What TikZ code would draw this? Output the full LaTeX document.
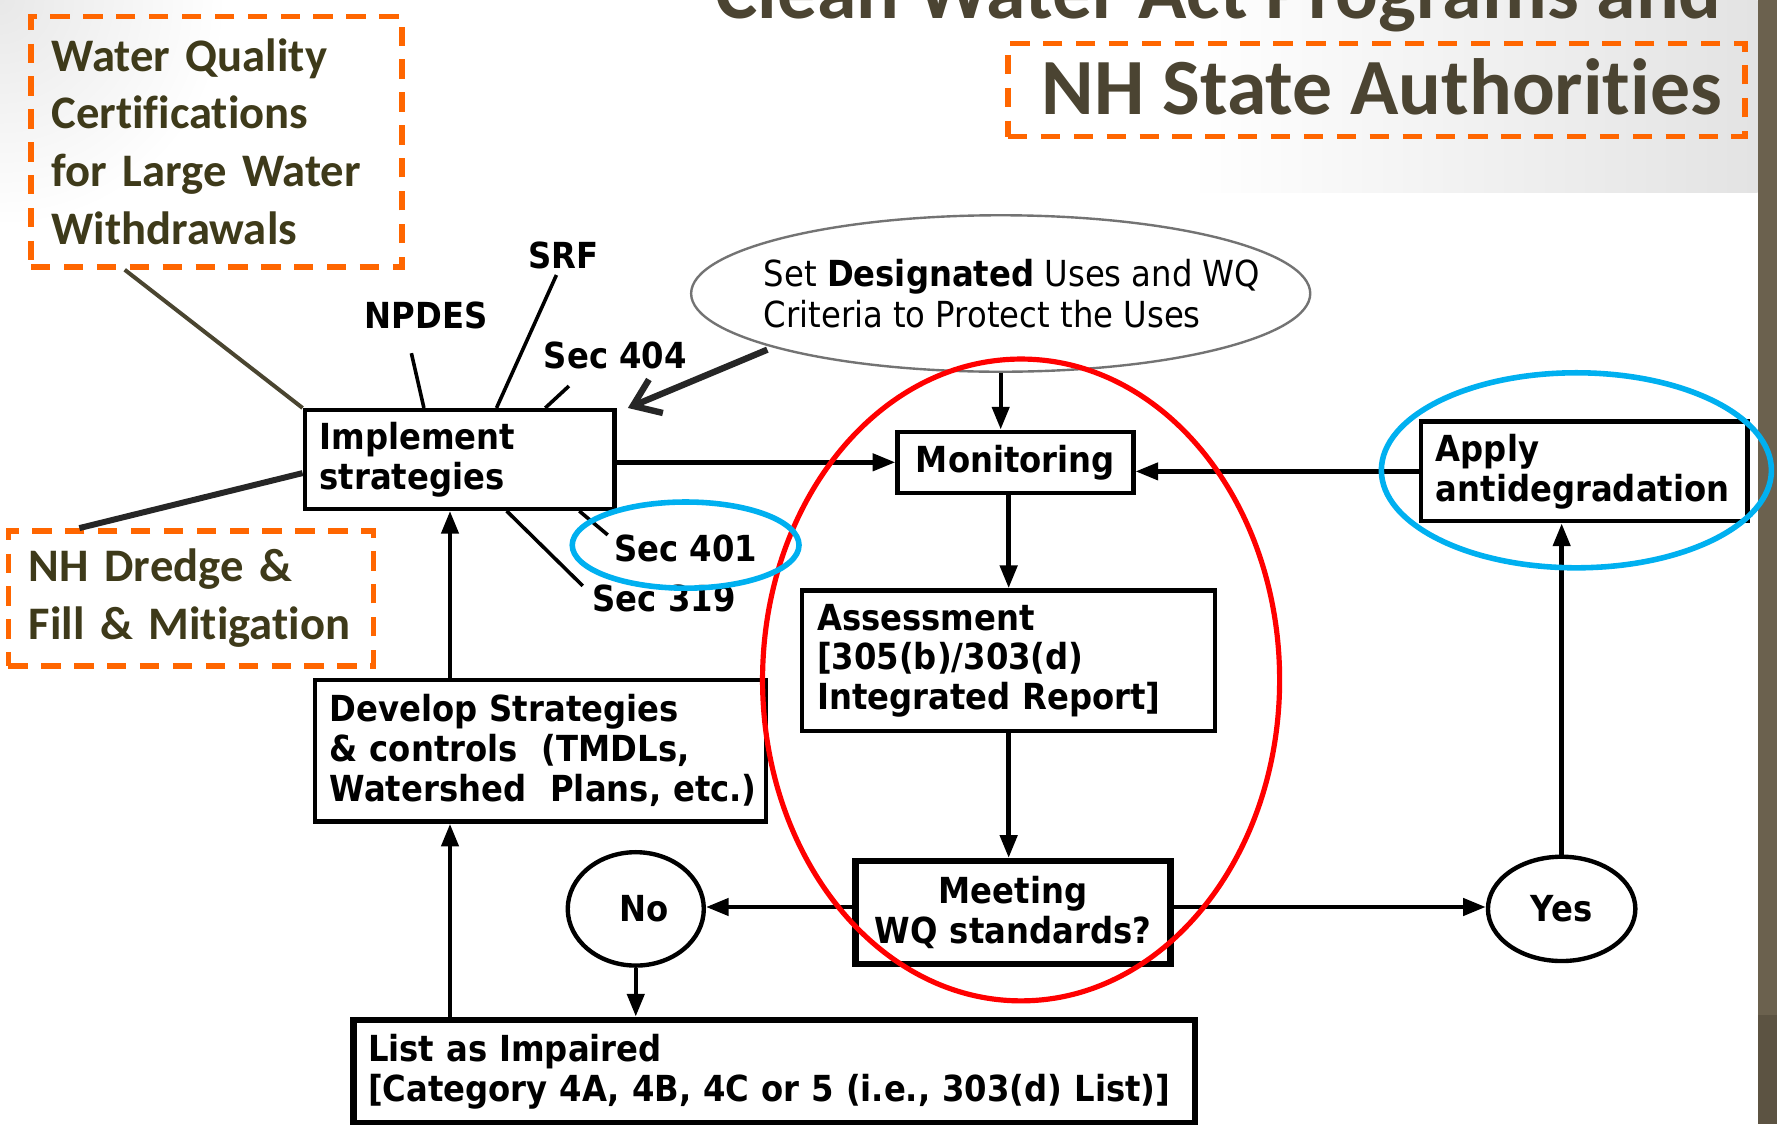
\documentclass[tikz,border=0pt]{standalone}
\usepackage{fontspec}
\setmainfont{DejaVu Sans}[FakeStretch=0.9]
\newfontfamily\slidefont{Carlito}[Ligatures=NoCommon]
\usetikzlibrary{arrows.meta,shapes.geometric}

\definecolor{slideorange}{RGB}{255,102,0}
\definecolor{slidetext}{RGB}{62,58,26}
\definecolor{titletext}{RGB}{75,68,50}
\definecolor{sidebar}{RGB}{107,97,78}
\definecolor{sidebardark}{RGB}{92,83,66}
\definecolor{ringblue}{RGB}{0,176,240}
\definecolor{linkolive}{RGB}{74,69,48}

\begin{document}
\begin{tikzpicture}
[
x=0.01cm, y=-0.01cm,
box/.style={
% The shape:
rectangle,
% The border:
draw=black, line width=1.1pt,
% The filling:
fill=white,
% The text:
font=\fontsize{9}{10}\selectfont\bfseries,
inner xsep=1.3mm, inner ysep=0mm,
},
bigbox/.style={
box,
% a heavier border
line width=1.6pt,
},
answer/.style={
% The shape:
ellipse,
% The border:
draw=black, line width=1.1pt,
fill=white,
font=\fontsize{9}{10}\selectfont\bfseries,
inner sep=0pt,
},
program/.style={
font=\fontsize{9}{10}\selectfont\bfseries,
inner sep=0pt,
},
stateauth/.style={
% The shape:
rectangle,
% The border: orange and dashed
draw=slideorange, line width=1.4pt,
dash pattern=on 1.7mm off 1.2mm,
% The text:
text=slidetext,
font=\slidefont\fontsize{11.7}{14.5}\selectfont\bfseries,
inner xsep=1.8mm, inner ysep=0mm,
align=left,
},
slidetitle/.style={
anchor=base east, inner sep=0pt,
text=titletext,
font=\slidefont\fontsize{20}{24}\selectfont\bfseries,
},
flow/.style={-{Triangle[length=2mm,width=1.5mm]}, line width=1.1pt},
stub/.style={line width=0.9pt},
ring/.style={line width=1.4pt},
]
    \useasboundingbox (0,0) rectangle (1568,992);
    \clip (0,0) rectangle (1568,992);
    % slide background
    \fill[white] (0,0) rectangle (1568,992);
    \shade[left color=white, right color=black!11] (1050,0) rectangle (1551,170);
    \shade[inner color=black!9, outer color=white] (0,0) circle (2cm);
    \fill[sidebar] (1551,0) rectangle (1568,896);
    \fill[sidebardark] (1551,896) rectangle (1568,992);

    % title
    \node[slidetitle] (title) at (1520,16) {Clean Water Act Programs and};
    \node[slidetitle] (subtitle) at (1520,101) {NH State Authorities};
    \node[stateauth, anchor=north west, minimum width=6.5cm, minimum height=8.2mm] (authbox) at (887,36) {};

    % state programs
    \node[stateauth, anchor=north west, text width=2.91cm, minimum height=22.1mm] (wqcert) at (25,12) {Water~Quality\\Certifications\\for~Large~Water\\Withdrawals};
    \node[stateauth, anchor=north west, text width=2.86cm, minimum height=11.9mm] (dredge) at (5,466) {NH~Dredge~\&\\Fill~\&~Mitigation};

    % flow chart
    \node[ellipse, draw=black!55, line width=0.6pt, minimum width=5.46cm, minimum height=13.8mm, inner sep=0pt] (uses) at (883,259) {};
    \node[align=left, font=\fontsize{9}{10.3}\selectfont, inner sep=0pt] (usestext) at ([xshift=1mm]uses.center) {Set \textbf{Designated} Uses and WQ\\Criteria to Protect the Uses};
    \node[box, anchor=north west, text width=2.47cm, minimum height=8.7mm, align=left] (impl) at (267,360) {Implement\\strategies};
    \node[box, anchor=north west, minimum width=2.08cm, minimum height=5.4mm] (mon) at (790,379) {Monitoring};
    \node[box, anchor=north west, text width=2.62cm, minimum height=8.8mm, align=left] (apply) at (1252,370) {Apply\\antidegradation};
    \node[box, anchor=north west, text width=3.38cm, minimum height=12.4mm, align=left] (assess) at (706,519) {Assessment\\{[}305(b)/303(d)\\Integrated~Report{]}};
    \node[bigbox, anchor=north west, text width=2.52cm, minimum height=9.1mm, align=center] (meet) at (752,757) {Meeting\\WQ~standards?};
    \node[box, anchor=north west, text width=3.72cm, minimum height=12.5mm, align=left] (develop) at (276,598) {Develop~Strategies\\\&~controls~~(TMDLs,\\Watershed~~Plans,~etc.)};
    \node[bigbox, anchor=north west, text width=7.16cm, minimum height=9.1mm, align=left] (listimp) at (309,897) {List as Impaired\\{[}Category~4A,~4B,~4C~or~5~(i.e.,~303(d)~List){]}};
    \node[answer, minimum width=12mm, minimum height=10mm] (noc) at (561,802) {\hspace{1.5mm}No};
    \node[answer, minimum width=13mm, minimum height=9.2mm] (yesc) at (1378,802) {Yes};

    % federal programs
    \node[program] (srf) at (497,225) {SRF};
    \node[program] (npdes) at (376,278) {NPDES};
    \node[program] (sec404) at (543,314) {Sec 404};
    \node[program] (sec401) at (605,484) {Sec 401};
    \node[program] (sec319) at (586,528) {Sec 319};

    % links to the state programs
    \draw[line width=1pt, linkolive] ([xshift=8.5mm]wqcert.south west) -- (impl.north west);
    \draw[line width=1.5pt, black!85] ([xshift=6.5mm]dredge.north west) -- ([yshift=-1.2mm]impl.west);

    % links to the federal programs
    \draw[stub] (npdes.south) ++(-13,21) -- ([xshift=10.7mm]impl.north west);
    \draw[stub] (srf.south) ++(-6,5) -- ([xshift=17.1mm]impl.north west);
    \draw[stub] (sec404.south) ++(-41,14) -- ([xshift=21.4mm]impl.north west);
    \draw[stub] ([xshift=24.4mm]impl.south west) -- ([xshift=-0.5mm,yshift=1.2mm]sec401.west);
    \draw[stub] ([xshift=18mm]impl.south west) -- ([xshift=-0.8mm,yshift=1.1mm]sec319.west);

    % arrows
    \draw[-{Straight Barb[length=2.2mm,width=3.2mm]}, line width=1.6pt, black!85] ([xshift=-1.2mm]uses.south west) -- ([xshift=1mm]impl.north east);
    \draw[flow] (uses.south) -- (uses.south |- mon.north);
    \draw[flow] (impl.east |- mon.west) -- (mon.west);
    \draw[flow] (apply.west) -- (apply.west -| mon.east);
    \draw[flow] (assess.north |- mon.south) -- (assess.north);
    \draw[flow] (assess.south) -- (assess.south |- meet.north);
    \draw[flow] ([yshift=0.5mm]meet.west) -- ([yshift=0.5mm]meet.west -| noc.east);
    \draw[flow] ([yshift=0.5mm]meet.east) -- ([yshift=0.5mm]meet.east -| yesc.west);
    \draw[flow] (yesc.north) -- (yesc.north |- apply.south);
    \draw[flow] (noc.south) -- (noc.south |- listimp.north);
    \draw[flow] ([xshift=12.1mm]develop.south west |- listimp.north) -- ([xshift=12.1mm]develop.south west);
    \draw[flow] ([xshift=12.1mm]develop.north west) -- ([xshift=12.1mm]develop.north west |- impl.south);

    % highlights
    \draw[red, line width=1.3pt] (901,600) ellipse [x radius=2.28cm, y radius=2.83cm];
    \draw[ringblue, ring] (605,481) ellipse [x radius=1cm, y radius=0.38cm];
    \draw[ringblue, ring] (1391,415) ellipse [x radius=1.72cm, y radius=0.86cm];
\end{tikzpicture}
\end{document}
